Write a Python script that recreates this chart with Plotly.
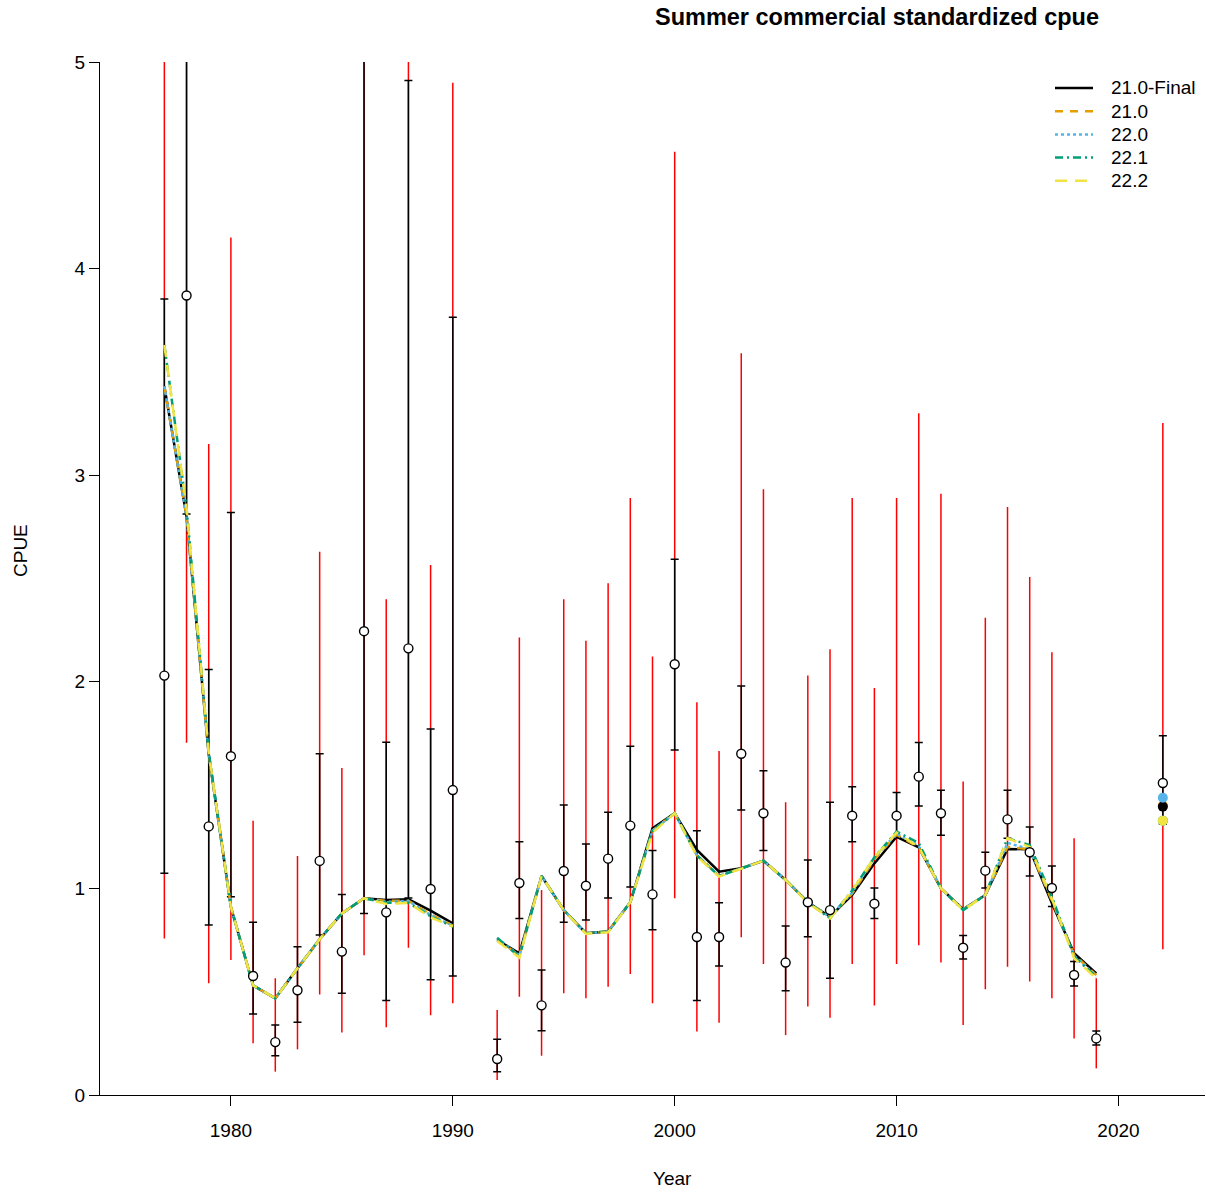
import plotly.graph_objects as go

# ---------------- data ----------------
obs_years = [1977, 1978, 1979, 1980, 1981, 1982, 1983, 1984, 1985, 1986, 1987, 1988, 1989, 1990,
             1992, 1993, 1994, 1995, 1996, 1997, 1998, 1999, 2000, 2001, 2002, 2003, 2004, 2005,
             2006, 2007, 2008, 2009, 2010, 2011, 2012, 2013, 2014, 2015, 2016, 2017, 2018, 2019, 2022]
obs_cpue = [2.03, 3.87, 1.30, 1.64, 0.576, 0.256, 0.507, 1.133, 0.694, 2.245, 0.884, 2.162, 0.997, 1.476,
            0.174, 1.026, 0.434, 1.084, 1.013, 1.144, 1.304, 0.971, 2.085, 0.765, 0.765, 1.652, 1.364, 0.641,
            0.933, 0.895, 1.352, 0.926, 1.352, 1.541, 1.364, 0.713, 1.086, 1.334, 1.175, 1.002, 0.581, 0.274, 1.51]
# inner interval (black)
inner_lo = [1.073, 2.812, 0.823, 0.96, 0.392, 0.19, 0.352, 0.774, 0.492, 0.879, 0.457, 0.953, 0.558, 0.576,
            0.113, 0.854, 0.311, 0.836, 0.847, 0.953, 1.007, 0.80, 1.67, 0.457, 0.624, 1.379, 1.184, 0.505,
            0.766, 0.565, 1.226, 0.854, 1.25, 1.399, 1.257, 0.658, 1.002, 1.243, 1.06, 0.912, 0.528, 0.242, 1.31]
inner_hi = [3.853, 6.2, 2.06, 2.819, 0.836, 0.339, 0.718, 1.652, 0.971, 6.5, 1.707, 4.91, 1.771, 3.764,
            0.27, 1.226, 0.605, 1.404, 1.215, 1.368, 1.688, 1.184, 2.593, 1.279, 0.931, 1.98, 1.57, 0.818,
            1.137, 1.417, 1.492, 1.002, 1.464, 1.706, 1.475, 0.772, 1.175, 1.475, 1.297, 1.108, 0.646, 0.31, 1.739]
# outer interval (red)
outer_lo = [0.758, 1.705, 0.541, 0.653, 0.25, 0.113, 0.221, 0.487, 0.303, 0.676, 0.328, 0.713, 0.386, 0.444,
            0.073, 0.476, 0.19, 0.492, 0.468, 0.524, 0.586, 0.444, 0.952, 0.307, 0.35, 0.763, 0.634, 0.29,
            0.428, 0.374, 0.634, 0.433, 0.634, 0.725, 0.641, 0.339, 0.512, 0.621, 0.549, 0.468, 0.274, 0.129, 0.705]
outer_hi = [8.0, 9.0, 3.151, 4.15, 1.328, 0.565, 1.157, 2.63, 1.583, 8.5, 2.399, 9.5, 2.565, 4.90,
            0.411, 2.215, 0.992, 2.399, 2.199, 2.477, 2.89, 2.122, 4.565, 1.901, 1.665, 3.59, 2.932, 1.417,
            2.031, 2.157, 2.89, 1.97, 2.89, 3.30, 2.91, 1.517, 2.31, 2.846, 2.507, 2.143, 1.243, 0.565, 3.253]

model_years = [1977, 1978, 1979, 1980, 1981, 1982, 1983, 1984, 1985, 1986, 1987, 1988, 1989, 1990, 1991,
               1992, 1993, 1994, 1995, 1996, 1997, 1998, 1999, 2000, 2001, 2002, 2003, 2004, 2005,
               2006, 2007, 2008, 2009, 2010, 2011, 2012, 2013, 2014, 2015, 2016, 2017, 2018, 2019]
m_210final = [3.43, 2.80, 1.65, 0.91, 0.53, 0.468, 0.613, 0.754, 0.879, 0.952, 0.944, 0.947, 0.892, 0.831, None,
              0.75, 0.686, 1.06, 0.895, 0.783, 0.791, 0.933, 1.291, 1.364, 1.186, 1.081, 1.097, 1.134, 1.041,
              0.933, 0.863, 0.968, 1.121, 1.25, 1.199, 1.0, 0.899, 0.968, 1.191, 1.189, 0.928, 0.686, 0.589]
m_210 = [3.43, 2.80, 1.65, 0.91, 0.53, 0.468, 0.613, 0.754, 0.879, 0.952, 0.94, 0.94, 0.875, 0.82, None,
         0.755, 0.675, 1.06, 0.895, 0.783, 0.791, 0.933, 1.28, 1.364, 1.16, 1.06, 1.097, 1.134, 1.041,
         0.933, 0.863, 0.975, 1.14, 1.26, 1.199, 1.0, 0.899, 0.968, 1.20, 1.19, 0.94, 0.68, 0.58]
m_220 = [3.43, 2.80, 1.65, 0.91, 0.53, 0.468, 0.613, 0.754, 0.879, 0.952, 0.935, 0.94, 0.87, 0.82, None,
         0.76, 0.675, 1.06, 0.895, 0.783, 0.791, 0.933, 1.28, 1.364, 1.16, 1.06, 1.097, 1.134, 1.041,
         0.933, 0.863, 0.98, 1.15, 1.265, 1.205, 1.0, 0.899, 0.968, 1.22, 1.19, 0.95, 0.675, 0.575]
m_221 = [3.63, 2.84, 1.66, 0.91, 0.53, 0.468, 0.613, 0.754, 0.879, 0.952, 0.93, 0.93, 0.865, 0.815, None,
         0.76, 0.67, 1.06, 0.895, 0.783, 0.791, 0.933, 1.28, 1.364, 1.16, 1.06, 1.097, 1.134, 1.041,
         0.933, 0.855, 0.99, 1.15, 1.275, 1.22, 1.0, 0.895, 0.968, 1.243, 1.21, 0.96, 0.67, 0.57]
m_222 = [3.63, 2.84, 1.66, 0.91, 0.53, 0.468, 0.613, 0.754, 0.879, 0.952, 0.925, 0.93, 0.86, 0.815, None,
         0.745, 0.665, 1.06, 0.895, 0.78, 0.788, 0.933, 1.27, 1.364, 1.155, 1.057, 1.097, 1.134, 1.041,
         0.93, 0.855, 0.99, 1.15, 1.27, 1.2, 1.0, 0.895, 0.968, 1.243, 1.2, 0.95, 0.662, 0.565]
forecast_year = [2022]
fc_210final = [1.396]
fc_210 = [1.40]
fc_220 = [1.439]
fc_221 = [1.328]
fc_222 = [1.328]

model_names = ["21.0-Final", "21.0", "22.0", "22.1", "22.2"]
model_series = [m_210final, m_210, m_220, m_221, m_222]
forecast_series = [fc_210final, fc_210, fc_220, fc_221, fc_222]
model_colors = ["#000000", "#E69F00", "#56B4E9", "#009E73", "#F0E442"]
model_dashes = ["solid", "8px,7px", "3px,3px", "8px,4px,2px,4px", "12px,8px"]

x_ticks = [1980, 1990, 2000, 2010, 2020]
y_ticks = [0, 1, 2, 3, 4, 5]

FONT = "Liberation Sans, Arial, sans-serif"

# pixel geometry of the plotting area (figure 1206 x 1192)
L, R, T, B = 100, 1205, 62, 1095


def px_x(p):
    return (p - L) / (R - L)


def px_y(p):
    return (B - p) / (B - T)


fig = go.Figure()

# outer (red) intervals
fig.add_trace(go.Scatter(
    x=obs_years, y=obs_cpue, mode="markers", showlegend=False, hoverinfo="skip",
    marker=dict(size=1, color="rgba(0,0,0,0)"),
    error_y=dict(type="data", symmetric=False,
                 array=[h - v for h, v in zip(outer_hi, obs_cpue)],
                 arrayminus=[v - l for v, l in zip(obs_cpue, outer_lo)],
                 color="red", thickness=1.5, width=0),
))
# inner (black) intervals
fig.add_trace(go.Scatter(
    x=obs_years, y=obs_cpue, mode="markers", showlegend=False, hoverinfo="skip",
    marker=dict(size=1, color="rgba(0,0,0,0)"),
    error_y=dict(type="data", symmetric=False,
                 array=[h - v for h, v in zip(inner_hi, obs_cpue)],
                 arrayminus=[v - l for v, l in zip(obs_cpue, inner_lo)],
                 color="black", thickness=1.5, width=4),
))

# model fits
for name, ys, col, dash in zip(model_names, model_series, model_colors, model_dashes):
    fig.add_trace(go.Scatter(
        x=model_years, y=ys, mode="lines", name=name, connectgaps=False, showlegend=False,
        line=dict(color=col, width=2.5, dash=dash),
    ))

# forecast points
order = [1, 0, 2, 3, 4]
for i in order:
    fig.add_trace(go.Scatter(
        x=forecast_year, y=forecast_series[i], mode="markers", showlegend=False,
        name=model_names[i], marker=dict(size=10, color=model_colors[i]),
    ))

# observed points
fig.add_trace(go.Scatter(
    x=obs_years, y=obs_cpue, mode="markers", showlegend=False, name="observed",
    marker=dict(size=9, color="white", line=dict(color="black", width=1.4)),
))

# legend (drawn as line samples + labels)
shapes = []
annotations = []
for i, (name, col, dash) in enumerate(zip(model_names, model_colors, model_dashes)):
    yy = px_y(88 + 23.2 * i)
    shapes.append(dict(type="line", xref="paper", yref="paper",
                       x0=px_x(1055), x1=px_x(1093), y0=yy, y1=yy,
                       line=dict(color=col, width=2.5, dash=dash)))
    annotations.append(dict(text=name, xref="paper", yref="paper", x=px_x(1109), y=yy,
                            xanchor="left", yanchor="middle", showarrow=False,
                            font=dict(size=19)))

annotations += [
    dict(text="CPUE", xref="paper", yref="paper", x=px_x(20), y=px_y(550),
         textangle=-90, showarrow=False, xanchor="center", yanchor="middle", font=dict(size=19)),
    dict(text="Year", xref="paper", yref="paper", x=px_x(672), y=px_y(1178),
         showarrow=False, xanchor="center", yanchor="middle", font=dict(size=19)),
]

fig.update_layout(
    width=1206, height=1192,
    margin=dict(l=L, r=1206 - R, t=T, b=1192 - B),
    paper_bgcolor="white", plot_bgcolor="white",
    font=dict(family=FONT, size=19, color="black"),
    showlegend=False,
    title=dict(text="Summer commercial standardized cpue", xref="container", x=877 / 1206,
               xanchor="center", y=1 - 17 / 1192, yanchor="middle",
               font=dict(family=FONT, size=23.5, weight="bold", color="black")),
    xaxis=dict(range=[1974.1, 2023.9], tickvals=x_ticks, ticks="outside", ticklen=10,
               tickwidth=1.3, tickcolor="black", showline=True, linecolor="black", linewidth=1.3,
               showgrid=False, zeroline=False, tickfont=dict(size=19), ticklabelstandoff=8),
    yaxis=dict(range=[0, 5], tickvals=y_ticks, ticks="outside", ticklen=10,
               tickwidth=1.3, tickcolor="black", showline=True, linecolor="black", linewidth=1.3,
               showgrid=False, zeroline=False, tickfont=dict(size=19)),
    shapes=shapes,
    annotations=annotations,
)

fig.write_html("out.html", config={"displayModeBar": False},
               post_script="document.body.style.margin='0px';")
